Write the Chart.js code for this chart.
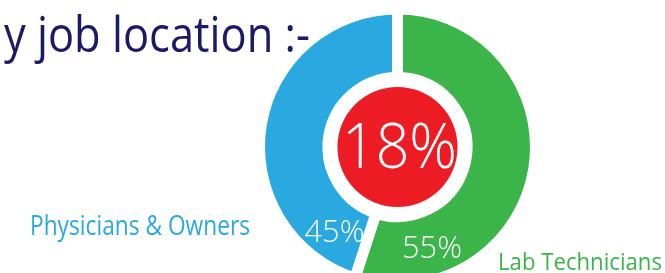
<!DOCTYPE html>
<html>
<head>
<meta charset="utf-8">
<script src="https://cdn.jsdelivr.net/npm/chart.js@4"></script>
<style>
html,body{margin:0;padding:0;background:#fff;overflow:hidden;}
#wrap{position:relative;width:665px;height:273px;}
</style>
</head>
<body>
<div id="wrap"><canvas id="c"></canvas></div>
<script>
// ---- data ----
const titleText = "y job location :-";
const categories = ["Lab Technicians", "Physicians & Owners"];
const values = [55, 45];
const centerValue = [18];
const colors = ["#3bb54a", "#29a9e0"];
const centerColor = "#ed1c24";
const navy = "#1b1a66";

function fitText(ctx, str, x, y, size, width, color, align, refStr, weight) {
  ctx.save();
  ctx.font = (weight || 400) + ' ' + size + 'px "Open Sans"';
  const w = ctx.measureText(refStr || str).width;
  const sx = width / w;
  ctx.translate(x, y);
  ctx.scale(sx, 1);
  ctx.textAlign = align;
  ctx.textBaseline = 'alphabetic';
  ctx.fillStyle = color;
  ctx.fillText(str, 0, 0);
  ctx.restore();
}

const decor = {
  id: 'decor',
  afterDatasetsDraw(chart) {
    const ctx = chart.ctx;
    const arc = chart.getDatasetMeta(0).data[0];
    const cx = arc.x, cy = arc.y;
    // red centre disc
    ctx.save();
    ctx.fillStyle = centerColor;
    ctx.beginPath();
    ctx.arc(cx, cy, arc.innerRadius - 9.5, 0, Math.PI * 2);
    ctx.fill();
    ctx.restore();
    fitText(ctx, centerValue[0] + '%', cx + 2, cy + 21, 63, 115, '#fff', 'center', null, 300);
    // percentage labels on ring
    fitText(ctx, values[1] + '%', cx - 63, cy + 95, 31, 60, '#fff', 'center', null, 300);
    fitText(ctx, values[0] + '%', cx + 34.5, cy + 111, 31, 60, '#fff', 'center', null, 300);
    // category labels
    fitText(ctx, categories[1], cx - 367.5, cy + 88, 28, 220, colors[1], 'left', null, 400);
    fitText(ctx, categories[0], cx + 100.5, cy + 123, 24, 164, colors[0], 'left', null, 400);
    // title (cropped)
    fitText(ctx, titleText, cx - 87.5, cy - 95, 50, 273, navy, 'right', titleText.slice(2), 400);
  }
};

new Chart(document.getElementById('c'), {
  type: 'doughnut',
  data: {
    labels: categories,
    datasets: [{
      data: values,
      backgroundColor: colors,
      borderColor: '#ffffff',
      borderWidth: 11,
      borderAlign: 'center',
      hoverOffset: 0,
      clip: false
    }]
  },
  options: {
    responsive: true,
    maintainAspectRatio: false,
    animation: false,
    radius: 138,
    cutout: '50.4%',
    layout: { padding: { left: 130, right: 0, top: 21, bottom: 0 } },
    plugins: {
      legend: { display: false },
      tooltip: { enabled: false },
      title: { display: false }
    },
    events: []
  },
  plugins: [decor]
});
</script>
</body>
</html>
